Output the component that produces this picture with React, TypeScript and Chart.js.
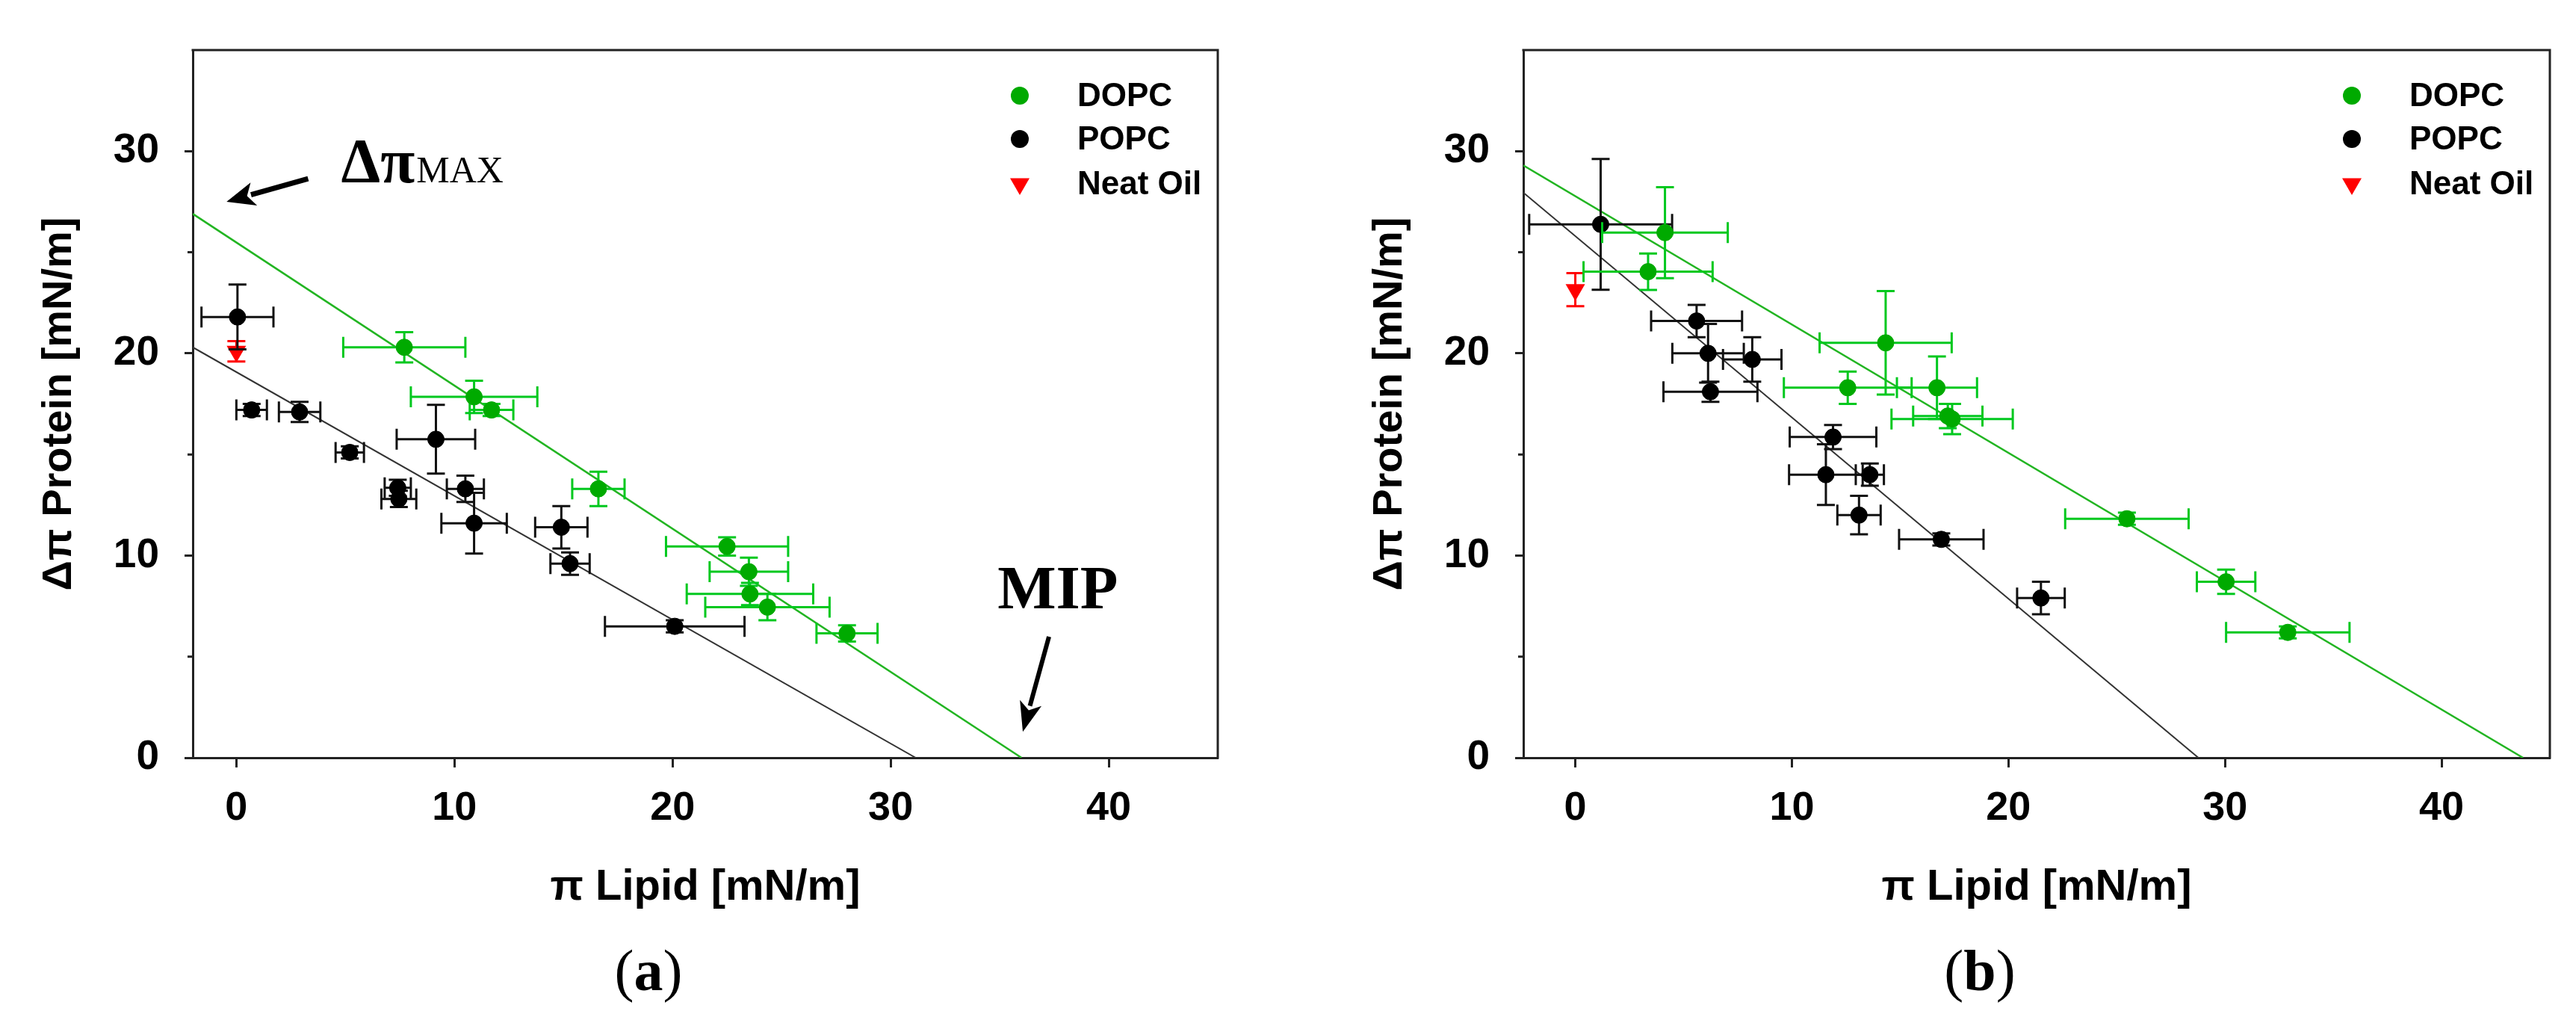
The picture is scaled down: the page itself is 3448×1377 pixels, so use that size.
import React, { useEffect, useRef } from 'react';
import { Chart, registerables } from 'chart.js';

Chart.register(...registerables);

// ---------- data ----------
const xTickValues = [0, 10, 20, 30, 40];
const yTickValues = [0, 10, 20, 30];
const yMinorTickValues = [5, 15, 25];
const seriesLabels = ['DOPC', 'POPC', 'Neat Oil'];

// panel (a)
const aDopcX = [7.7, 10.9, 11.7, 16.6, 22.5, 23.5, 23.55, 24.35, 28.0];
const aDopcY = [20.3, 17.85, 17.2, 13.3, 10.45, 9.2, 8.1, 7.45, 6.15];
const aDopcXErr = [2.8, 2.9, 1.0, 1.2, 2.8, 1.8, 2.9, 2.85, 1.4];
const aDopcYErr = [0.75, 0.8, 0.3, 0.85, 0.45, 0.7, 0.55, 0.65, 0.4];

const aPopcX = [0.05, 0.7, 2.9, 5.2, 9.15, 7.4, 7.45, 10.5, 10.9, 14.9, 15.3, 20.1];
const aPopcY = [21.8, 17.2, 17.1, 15.1, 15.75, 13.35, 12.8, 13.3, 11.6, 11.4, 9.6, 6.5];
const aPopcXErr = [1.65, 0.7, 0.95, 0.65, 1.8, 0.6, 0.8, 0.85, 1.5, 1.2, 0.9, 3.2];
const aPopcYErr = [1.6, 0.3, 0.5, 0.3, 1.7, 0.4, 0.4, 0.65, 1.5, 1.05, 0.55, 0.3];

const aOilX = [0];
const aOilY = [20.1];
const aOilYErr = [0.5];

const aDopcFitX = [-2, 36.0];
const aDopcFitY = [26.9, 0];
const aPopcFitX = [-2, 31.15];
const aPopcFitY = [20.3, 0];

// panel (b)
const bDopcX = [4.14, 3.36, 14.33, 12.58, 16.7, 17.2, 17.4, 25.47, 30.05, 32.9];
const bDopcY = [25.97, 24.04, 20.52, 18.3, 18.3, 16.9, 16.75, 11.82, 8.7, 6.2];
const bDopcXErr = [2.9, 2.98, 3.05, 2.95, 1.85, 1.6, 2.8, 2.85, 1.35, 2.85];
const bDopcYErr = [2.25, 0.9, 2.56, 0.8, 1.55, 0.6, 0.75, 0.3, 0.6, 0.3];

const bPopcX = [1.17, 5.6, 6.13, 8.17, 6.24, 11.9, 11.57, 13.6, 13.1, 16.9, 21.5];
const bPopcY = [26.38, 21.6, 20.0, 19.7, 18.1, 15.86, 14.0, 14.0, 12.0, 10.8, 7.9];
const bPopcXErr = [3.3, 2.1, 1.65, 1.35, 2.17, 2.0, 1.7, 0.65, 1.0, 1.95, 1.1];
const bPopcYErr = [3.23, 0.8, 1.45, 1.1, 0.5, 0.6, 1.5, 0.55, 0.95, 0.3, 0.8];

const bOilX = [0];
const bOilY = [23.15];
const bOilYErr = [0.82];

const bDopcFitX = [-2.4, 43.76];
const bDopcFitY = [29.3, 0];
const bPopcFitX = [-2.4, 28.77];
const bPopcFitY = [27.95, 0];

// ---------- styling ----------
const SANS = '"Liberation Sans", Arial, sans-serif';
const SERIF = '"Liberation Serif", "Times New Roman", serif';
const GREEN_MARK = '#00aa00';
const GREEN_BAR = '#00c81e';
const GREEN_LINE = '#22b522';
const BLACK = '#000000';
const RED = '#ff0000';
const AXIS = '#222222';

const CANVAS_W = 1724;
const CANVAS_H = 1377;

type Pt = { x: number; y: number };
const toPoints = (xs: number[], ys: number[]): Pt[] => xs.map((x, i) => ({ x, y: ys[i] }));

const errorBarPlugin = {
  id: 'errorBars',
  beforeDatasetDraw(chart: any, args: any) {
    const ds: any = chart.data.datasets[args.index];
    if (!ds.xErr && !ds.yErr) return;
    const xs = chart.scales.x;
    const ys = chart.scales.y;
    const ctx = chart.ctx;
    ctx.save();
    ctx.strokeStyle = ds.errColor;
    ctx.lineWidth = 3;
    const capH = 14;
    const capW = 12;
    ds.data.forEach((p: Pt, i: number) => {
      const px = xs.getPixelForValue(p.x);
      const py = ys.getPixelForValue(p.y);
      const ex = ds.xErr ? ds.xErr[i] : 0;
      const ey = ds.yErr ? ds.yErr[i] : 0;
      ctx.beginPath();
      if (ex > 0) {
        const l = xs.getPixelForValue(p.x - ex);
        const r = xs.getPixelForValue(p.x + ex);
        ctx.moveTo(l, py); ctx.lineTo(r, py);
        ctx.moveTo(l, py - capH); ctx.lineTo(l, py + capH);
        ctx.moveTo(r, py - capH); ctx.lineTo(r, py + capH);
      }
      if (ey > 0) {
        const t = ys.getPixelForValue(p.y + ey);
        const b = ys.getPixelForValue(p.y - ey);
        ctx.moveTo(px, t); ctx.lineTo(px, b);
        ctx.moveTo(px - capW, t); ctx.lineTo(px + capW, t);
        ctx.moveTo(px - capW, b); ctx.lineTo(px + capW, b);
      }
      ctx.stroke();
    });
    ctx.restore();
  },
};

function drawArrow(ctx: CanvasRenderingContext2D, x1: number, y1: number, x2: number, y2: number, shaftW: number, headLen: number, headW: number) {
  const dx = x2 - x1;
  const dy = y2 - y1;
  const len = Math.hypot(dx, dy);
  const ux = dx / len;
  const uy = dy / len;
  const bx = x2 - ux * headLen;
  const by = y2 - uy * headLen;
  ctx.save();
  ctx.strokeStyle = '#000';
  ctx.fillStyle = '#000';
  ctx.lineWidth = shaftW;
  ctx.beginPath();
  ctx.moveTo(x1, y1);
  ctx.lineTo(bx + ux * 4, by + uy * 4);
  ctx.stroke();
  ctx.beginPath();
  ctx.moveTo(x2, y2);
  ctx.lineTo(bx - uy * headW / 2, by + ux * headW / 2);
  ctx.lineTo(bx + ux * headLen * 0.25, by + uy * headLen * 0.25);
  ctx.lineTo(bx + uy * headW / 2, by - ux * headW / 2);
  ctx.closePath();
  ctx.fill();
  ctx.restore();
}

const decorPlugin = {
  id: 'decor',
  afterDraw(chart: any, _args: any, opts: any) {
    const ctx: CanvasRenderingContext2D = chart.ctx;
    const { left, right, top, bottom } = chart.chartArea;
    const xs = chart.scales.x;
    const ys = chart.scales.y;
    ctx.save();
    // top and right frame
    ctx.strokeStyle = AXIS;
    ctx.lineWidth = 3;
    ctx.beginPath();
    ctx.moveTo(left - 1.5, top);
    ctx.lineTo(right, top);
    ctx.lineTo(right, bottom + 1.5);
    ctx.stroke();
    // minor y ticks
    ctx.beginPath();
    yMinorTickValues.forEach((v) => {
      const py = ys.getPixelForValue(v);
      ctx.moveTo(left - 7, py);
      ctx.lineTo(left, py);
    });
    ctx.stroke();

    // legend
    const mx = right - 265;
    const tx = right - 188;
    const rows = [top + 61, top + 119, top + 179];
    ctx.font = `bold 44px ${SANS}`;
    ctx.textBaseline = 'middle';
    ctx.textAlign = 'left';
    [0, 1, 2].forEach((i) => {
      const ds: any = chart.data.datasets[i];
      const y = rows[i];
      ctx.fillStyle = ds.backgroundColor;
      ctx.beginPath();
      if (ds.pointStyle === 'triangle') {
        const r = 15;
        ctx.moveTo(mx, y + r);
        ctx.lineTo(mx - r * 0.866, y - r * 0.5);
        ctx.lineTo(mx + r * 0.866, y - r * 0.5);
        ctx.closePath();
      } else {
        ctx.arc(mx, y, 12, 0, Math.PI * 2);
      }
      ctx.fill();
      ctx.fillStyle = '#000';
      ctx.fillText(ds.label, tx, y + 2);
    });

    // panel label
    const cx = (left + right) / 2 - 76;
    const baseY = 1325;
    ctx.textBaseline = 'alphabetic';
    const fReg = `78px ${SERIF}`;
    const fBold = `bold 78px ${SERIF}`;
    ctx.font = fReg;
    const wl = ctx.measureText('(').width;
    const wr = ctx.measureText(')').width;
    ctx.font = fBold;
    const wm = ctx.measureText(opts.label).width;
    let x0 = cx - (wl + wm + wr) / 2;
    ctx.fillStyle = '#000';
    ctx.font = fReg; ctx.fillText('(', x0, baseY); x0 += wl;
    ctx.font = fBold; ctx.fillText(opts.label, x0, baseY); x0 += wm;
    ctx.font = fReg; ctx.fillText(')', x0, baseY);

    // annotations
    if (opts.annotate) {
      const P = (x: number, y: number) => [xs.getPixelForValue(x), ys.getPixelForValue(y)];
      const [dxp, dyp] = P(4.8, 28.46);
      ctx.font = `bold 84px ${SERIF}`;
      ctx.fillText('Δπ', dxp, dyp);
      const w = ctx.measureText('Δπ').width;
      ctx.font = `50px ${SERIF}`;
      ctx.fillText('MAX', dxp + w + 2, dyp);
      const [a1x, a1y] = P(3.29, 28.64);
      const [a2x, a2y] = P(-0.45, 27.5);
      drawArrow(ctx, a1x, a1y, a2x, a2y, 7, 38, 32);

      const [mxp, myp] = P(34.9, 7.38);
      ctx.font = `bold 83px ${SERIF}`;
      ctx.fillText('MIP', mxp, myp);
      const [b1x, b1y] = P(37.26, 5.99);
      const [b2x, b2y] = P(36.06, 1.28);
      drawArrow(ctx, b1x, b1y, b2x, b2y, 6, 40, 30);
    }
    ctx.restore();
  },
};

type PanelSpec = {
  label: string;
  xMin: number;
  yAxisWidth: number;
  rightPad: number;
  annotate: boolean;
  dopc: Pt[]; dopcXErr: number[]; dopcYErr: number[];
  popc: Pt[]; popcXErr: number[]; popcYErr: number[];
  oil: Pt[]; oilYErr: number[];
  dopcFit: Pt[]; popcFit: Pt[];
};

const panelA: PanelSpec = {
  label: 'a', xMin: -2, yAxisWidth: 258, rightPad: 94, annotate: true,
  dopc: toPoints(aDopcX, aDopcY), dopcXErr: aDopcXErr, dopcYErr: aDopcYErr,
  popc: toPoints(aPopcX, aPopcY), popcXErr: aPopcXErr, popcYErr: aPopcYErr,
  oil: toPoints(aOilX, aOilY), oilYErr: aOilYErr,
  dopcFit: toPoints(aDopcFitX, aDopcFitY), popcFit: toPoints(aPopcFitX, aPopcFitY),
};

const panelB: PanelSpec = {
  label: 'b', xMin: -2.4, yAxisWidth: 315, rightPad: 35, annotate: false,
  dopc: toPoints(bDopcX, bDopcY), dopcXErr: bDopcXErr, dopcYErr: bDopcYErr,
  popc: toPoints(bPopcX, bPopcY), popcXErr: bPopcXErr, popcYErr: bPopcYErr,
  oil: toPoints(bOilX, bOilY), oilYErr: bOilYErr,
  dopcFit: toPoints(bDopcFitX, bDopcFitY), popcFit: toPoints(bPopcFitX, bPopcFitY),
};

function Panel({ spec, left }: { spec: PanelSpec; left: number }) {
  const ref = useRef<HTMLCanvasElement | null>(null);
  useEffect(() => {
    if (!ref.current) return;
    const yTitleCenter = spec.yAxisWidth - 178;
    const chart = new Chart(ref.current, {
      type: 'scatter',
      data: {
        datasets: [
          {
            label: seriesLabels[0], data: spec.dopc, backgroundColor: GREEN_MARK, borderColor: GREEN_MARK,
            pointRadius: 11, pointHoverRadius: 11, pointBorderWidth: 1,
            xErr: spec.dopcXErr, yErr: spec.dopcYErr, errColor: GREEN_BAR,
          } as any,
          {
            label: seriesLabels[1], data: spec.popc, backgroundColor: BLACK, borderColor: BLACK,
            pointRadius: 11, pointHoverRadius: 11, pointBorderWidth: 1,
            xErr: spec.popcXErr, yErr: spec.popcYErr, errColor: '#111111',
          } as any,
          {
            label: seriesLabels[2], data: spec.oil, backgroundColor: RED, borderColor: RED,
            pointStyle: 'triangle', pointRotation: 180, pointRadius: 15, pointHoverRadius: 15, pointBorderWidth: 0,
            yErr: spec.oilYErr, errColor: RED,
          } as any,
          {
            type: 'line', label: 'DOPC fit', data: spec.dopcFit, showLine: true, borderColor: GREEN_LINE,
            borderWidth: 2.5, pointRadius: 0, fill: false, tension: 0,
          } as any,
          {
            type: 'line', label: 'POPC fit', data: spec.popcFit, showLine: true, borderColor: '#333333',
            borderWidth: 2, pointRadius: 0, fill: false, tension: 0,
          } as any,
        ],
      },
      options: {
        responsive: false,
        animation: false,
        devicePixelRatio: 1,
        events: [],
        layout: { padding: { top: 56, right: spec.rightPad, left: 0, bottom: 0 } },
        plugins: {
          legend: { display: false },
          tooltip: { enabled: false },
          decor: { label: spec.label, annotate: spec.annotate },
        } as any,
        scales: {
          x: {
            type: 'linear',
            min: spec.xMin,
            max: 45,
            afterBuildTicks: (s: any) => { s.ticks = xTickValues.map((v) => ({ value: v })); },
            afterFit: (s: any) => { s.height = CANVAS_H - 1014; },
            grid: { drawOnChartArea: false, drawTicks: true, tickLength: 13, tickWidth: 3, tickColor: AXIS },
            border: { display: true, color: AXIS, width: 3 },
            ticks: {
              padding: 23, color: '#000', autoSkip: false, maxRotation: 0,
              font: { family: SANS, size: 54, weight: 'bold' },
            },
            title: {
              display: true, text: 'π Lipid [mN/m]', color: '#000',
              font: { family: SANS, size: 58, weight: 'bold' },
              padding: { top: 0, bottom: 154 },
            },
          },
          y: {
            type: 'linear',
            min: 0,
            max: 35,
            afterBuildTicks: (s: any) => { s.ticks = yTickValues.map((v) => ({ value: v })); },
            afterFit: (s: any) => { s.width = spec.yAxisWidth; },
            grid: { drawOnChartArea: false, drawTicks: true, tickLength: 11, tickWidth: 3, tickColor: AXIS },
            border: { display: true, color: AXIS, width: 3 },
            ticks: {
              padding: 34, color: '#000',
              font: { family: SANS, size: 55, weight: 'bold' },
            },
            title: {
              display: true, text: 'Δπ Protein [mN/m]', color: '#000',
              font: { family: SANS, size: 56, weight: 'bold' },
              padding: { top: yTitleCenter - 33.6, bottom: 0 },
            },
          },
        },
      } as any,
      plugins: [errorBarPlugin, decorPlugin],
    });
    return () => chart.destroy();
  }, [spec]);
  return (
    <canvas
      ref={ref}
      width={CANVAS_W}
      height={CANVAS_H}
      style={{ position: 'absolute', left, top: 0, width: CANVAS_W, height: CANVAS_H, display: 'block' }}
    />
  );
}

export default function App() {
  return (
    <div style={{ position: 'absolute', left: 0, top: 0, width: 3448, height: 1377, background: '#fff', overflow: 'hidden' }}>
      <Panel spec={panelA} left={0} />
      <Panel spec={panelB} left={CANVAS_W} />
    </div>
  );
}
